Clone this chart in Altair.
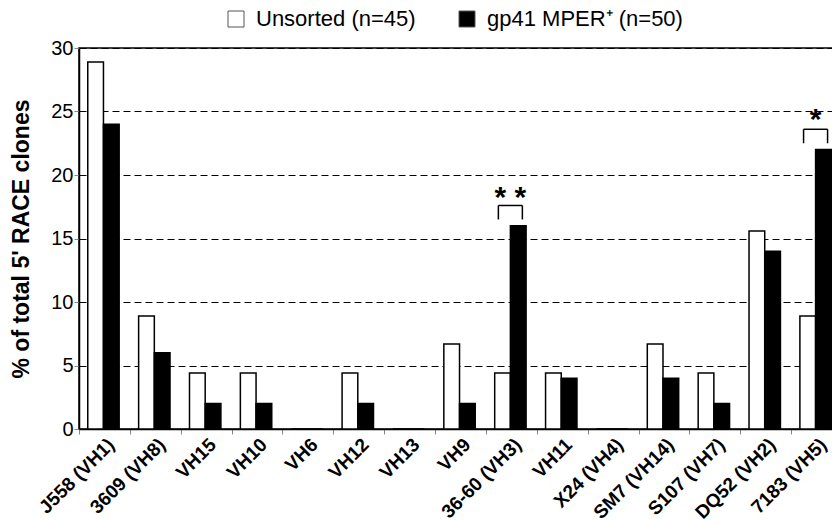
import altair as alt
import pandas as pd

categories = ["J558 (VH1)", "3609 (VH8)", "VH15", "VH10", "VH6", "VH12", "VH13", "VH9",
              "36-60 (VH3)", "VH11", "X24 (VH4)", "SM7 (VH14)", "S107 (VH7)", "DQ52 (VH2)", "7183 (VH5)"]
unsorted_pct = [28.9, 8.9, 4.4, 4.4, 0, 4.4, 0, 6.7, 4.4, 4.4, 0, 6.7, 4.4, 15.6, 8.9]
mper_pct = [24, 6, 2, 2, 0, 2, 0, 2, 16, 4, 0, 4, 2, 14, 22]
groups = ["Unsorted (n=45)", "gp41 MPER\u207a (n=50)"]
group_fill = ["white", "black"]

sig_cats = ["36-60 (VH3)", "7183 (VH5)"]
sig_labels = ["* *", "*"]
sig_star = [17.45, 23.65]
sig_top = [17.6, 23.6]
sig_bottom = [16.5, 22.5]

y_ticks = [0, 5, 10, 15, 20, 25, 30]
y_title = "% of total 5' RACE clones"

rows = []
for c, u, m in zip(categories, unsorted_pct, mper_pct):
    rows.append({"cat": c, "group": groups[0], "pct": u})
    rows.append({"cat": c, "group": groups[1], "pct": m})
df = pd.DataFrame(rows)
sig = pd.DataFrame({"cat": sig_cats, "label": sig_labels, "star": sig_star,
                    "top": sig_top, "bottom": sig_bottom})

FONT = "Liberation Sans"
W, H = 763, 381

x_axis = alt.Axis(title=None, labelAngle=-45, labelAlign="right", labelBaseline="top",
                  labelFont=FONT, labelFontSize=19, labelFontWeight="bold", labelColor="black",
                  tickBand="extent", tickColor="#888888", tickSize=5, domainColor="black",
                  domainWidth=1.5, labelPadding=1, grid=False, labelLimit=300)
x_scale = alt.Scale(paddingInner=0, paddingOuter=0)
y_axis = alt.Axis(title=y_title, values=y_ticks, grid=True, gridDash=[7, 4], gridColor="black",
                  gridWidth=1.2, labelFont=FONT, labelFontSize=20, labelColor="black",
                  tickColor="#888888", tickSize=5, domainColor="black", domainWidth=1.5,
                  titleFont=FONT, titleFontSize=23, titleFontWeight="bold", titleColor="black",
                  labelPadding=1, titlePadding=17)
y_scale = alt.Scale(domain=[0, 30], nice=False)


def X(field="cat:N"):
    return alt.X(field, sort=categories, scale=x_scale, axis=x_axis, title=None)


def Y(field):
    return alt.Y(field, scale=y_scale, axis=y_axis, title=y_title)


bars = alt.Chart(df).mark_bar(stroke="black", strokeWidth=1.5).encode(
    x=X(),
    xOffset=alt.XOffset("group:N", sort=groups,
                        scale=alt.Scale(paddingInner=0, paddingOuter=0.62, align=0.45)),
    y=Y("pct:Q"),
    fill=alt.Fill("group:N", sort=groups,
                  scale=alt.Scale(domain=groups, range=group_fill),
                  legend=alt.Legend(title=None, orient="none", legendX=146, legendY=-40,
                                    direction="horizontal", symbolType="square",
                                    symbolSize=256, symbolStrokeColor="#555555",
                                    symbolStrokeWidth=1, labelFont=FONT, labelFontSize=22,
                                    labelColor="black", columnPadding=40, labelOffset=9,
                                    labelLimit=400)),
)

leg_l = alt.Chart(sig).mark_rule(color="black", strokeWidth=1.5, xOffset=-13).encode(
    x=X(), y=Y("top:Q"), y2="bottom:Q")
leg_r = alt.Chart(sig).mark_rule(color="black", strokeWidth=1.5, xOffset=11).encode(
    x=X(), y=Y("top:Q"), y2="bottom:Q")
brk = alt.Chart(sig).mark_rule(color="black", strokeWidth=1.5, xOffset=-13, x2Offset=11).encode(
    x=X(), x2=alt.X2("cat:N", title=None), y=Y("top:Q"))
stars = alt.Chart(sig).mark_text(font=FONT, fontSize=30, fontWeight="bold", baseline="alphabetic",
                                 align="center", dx=-1, color="black").encode(
    x=X(), y=Y("star:Q"), text="label:N")

chart = alt.layer(bars, leg_l, leg_r, brk, stars).properties(
    width=W, height=H,
    autosize=alt.AutoSizeParams(type="none"),
    padding={"left": 79, "top": 48, "right": -10, "bottom": 91},
).configure(font=FONT).configure_view(stroke="black", strokeWidth=1.5)

chart.save("out.html", embed_options={"renderer": "svg", "actions": False})
